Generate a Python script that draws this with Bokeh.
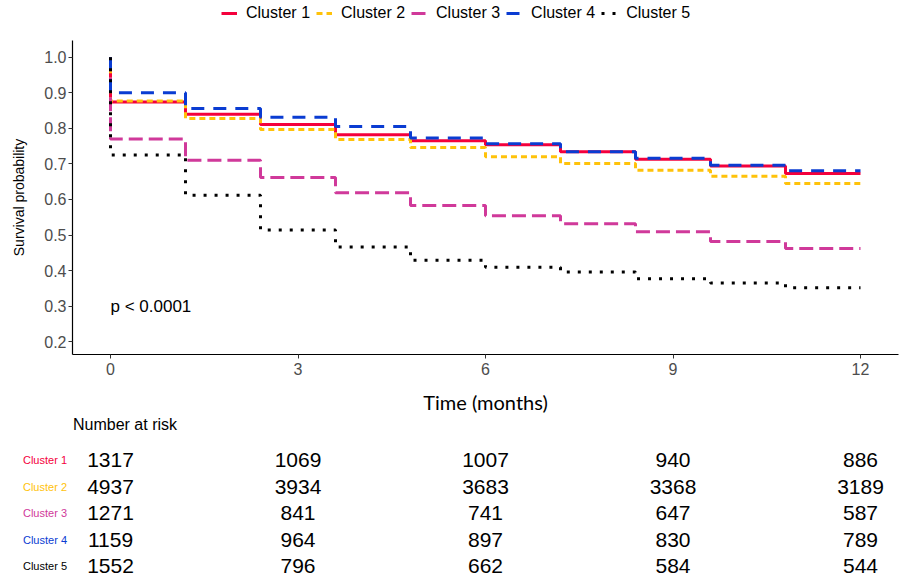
from bokeh.plotting import figure
from bokeh.models import (Range1d, FixedTicker, Legend, LegendItem, ColumnDataSource,
                          NumeralTickFormatter)
from bokeh.embed import file_html
from bokeh.resources import INLINE
from bokeh.core.properties import value

# ---------------- data ----------------
clusters = ["Cluster 1", "Cluster 2", "Cluster 3", "Cluster 4", "Cluster 5"]
step_times = [0, 1.2, 2.4, 3.6, 4.8, 6.0, 7.2, 8.4, 9.6, 10.8]
end_time = 12
surv_c1 = [0.874, 0.840, 0.811, 0.782, 0.765, 0.754, 0.734, 0.713, 0.694, 0.673]
surv_c2 = [0.877, 0.828, 0.797, 0.769, 0.746, 0.720, 0.701, 0.682, 0.665, 0.645]
surv_c3 = [0.770, 0.710, 0.662, 0.619, 0.583, 0.554, 0.532, 0.509, 0.482, 0.462]
surv_c4 = [0.900, 0.856, 0.831, 0.805, 0.773, 0.757, 0.734, 0.716, 0.696, 0.681]
surv_c5 = [0.725, 0.612, 0.514, 0.466, 0.429, 0.409, 0.396, 0.377, 0.365, 0.352]
survival = [surv_c1, surv_c2, surv_c3, surv_c4, surv_c5]

risk_times = [0, 3, 6, 9, 12]
risk_c1 = [1317, 1069, 1007, 940, 886]
risk_c2 = [4937, 3934, 3683, 3368, 3189]
risk_c3 = [1271, 841, 741, 647, 587]
risk_c4 = [1159, 964, 897, 830, 789]
risk_c5 = [1552, 796, 662, 584, 544]
risk = [risk_c1, risk_c2, risk_c3, risk_c4, risk_c5]

x_ticks = [0, 3, 6, 9, 12]
y_ticks = [0.2, 0.3, 0.4, 0.5, 0.6, 0.7, 0.8, 0.9, 1.0]
p_label = "p < 0.0001"

# ---------------- styles ----------------
colors = ["#F4003C", "#FFC20A", "#D0399A", "#0A3CD2", "#000000"]
dashes = ["solid", "6 4", "14 6", "13 9", "3 8"]
FONT = "Liberation Sans"
W = 900


def curve(i):
    xs = [0] + step_times + [end_time]
    ys = [1.0] + survival[i] + [survival[i][-1]]
    return xs, ys


# ---------------- legend strip ----------------
# (same curves, drawn off-range: only their legend swatches are visible)
lg = figure(width=W, height=26, output_backend="svg", toolbar_location=None,
            x_range=Range1d(100, 101), y_range=Range1d(100, 101),
            x_axis_location=None, y_axis_location=None, min_border=0)
lg.outline_line_color = None
lg.grid.visible = False
leg_renderers = []
for i in range(len(clusters)):
    xs, ys = curve(i)
    leg_renderers.append(lg.line(xs, ys, line_color=colors[i], line_width=3,
                                 line_dash=dashes[i], line_cap="butt"))
legend = Legend(items=[LegendItem(label=n, renderers=[r]) for n, r in zip(clusters, leg_renderers)],
                orientation="horizontal", location=(221, 3),
                label_text_font=FONT, label_text_font_size="16px", label_text_color="black",
                glyph_width=16, glyph_height=20, label_standoff=9, spacing=6,
                padding=0, margin=0, border_line_color=None, background_fill_alpha=0)
lg.add_layout(legend, "center")

# ---------------- main plot ----------------
p = figure(width=W, height=390, output_backend="svg", toolbar_location=None,
           x_range=Range1d(-0.608, 12.608), y_range=Range1d(0.1639, 1.0472),
           min_border_left=72, min_border_right=2, min_border_top=14, min_border_bottom=58)
p.background_fill_color = "white"
p.border_fill_color = "white"
p.outline_line_color = None
p.grid.visible = False

for i, name in enumerate(clusters):
    xs, ys = curve(i)
    p.step(xs, ys, mode="after", line_color=colors[i], line_width=3,
           line_dash=dashes[i], line_cap="butt")

p.text(x=[0], y=[0.3], text=[p_label], text_font=value(FONT), text_font_size="17px",
       text_align="left", text_baseline="middle", text_color="black")

for ax in (p.xaxis[0], p.yaxis[0]):
    ax.axis_line_color = "black"
    ax.axis_line_width = 1.2
    ax.major_tick_line_color = "#333333"
    ax.major_tick_out = 4
    ax.major_tick_in = 0
    ax.minor_tick_line_color = None
    ax.major_label_text_font = FONT
    ax.major_label_text_font_size = "16px"
    ax.major_label_text_color = "#4D4D4D"

p.xaxis.ticker = FixedTicker(ticks=x_ticks)
p.xaxis.major_label_standoff = 4
p.xaxis.axis_label = "Time (months)"
p.xaxis.axis_label_text_font = "Lato"
p.xaxis.axis_label_text_font_size = "20px"
p.xaxis.axis_label_text_font_style = "normal"
p.xaxis.axis_label_text_color = "black"
p.xaxis.axis_label_standoff = 12

p.yaxis.ticker = FixedTicker(ticks=y_ticks)
p.yaxis.formatter = NumeralTickFormatter(format="0.0")
p.yaxis.major_label_standoff = 2
p.yaxis.axis_label = "Survival probability"
p.yaxis.axis_label_text_font = FONT
p.yaxis.axis_label_text_font_size = "14px"
p.yaxis.axis_label_text_font_style = "normal"
p.yaxis.axis_label_text_color = "black"
p.yaxis.axis_label_standoff = 14

# ---------------- risk table ----------------
t = figure(width=W, height=162, output_backend="svg", toolbar_location=None,
           x_range=Range1d(-1.76, 12.64), y_range=Range1d(4.453, -1.660),
           x_axis_location=None, y_axis_location=None, min_border=0)
t.outline_line_color = None
t.grid.visible = False

t.text(x=[-0.6], y=[-1.358], text=["Number at risk"], text_font=value(FONT),
       text_font_size="16px", text_align="left", text_baseline="middle", text_color="black")

row_src = ColumnDataSource(dict(x=[-0.6] * len(clusters), y=list(range(len(clusters))),
                                txt=clusters, col=colors))
t.text(x="x", y="y", text="txt", source=row_src, text_font=value(FONT),
       text_font_size="11px", text_align="right", text_baseline="middle",
       text_color="col", x_offset=-6)

for i, name in enumerate(clusters):
    src = ColumnDataSource(dict(x=risk_times, y=[i] * len(risk_times),
                                txt=[str(v) for v in risk[i]]))
    t.text(x="x", y="y", text="txt", source=src, text_font=value(FONT), text_font_size="21px",
           text_align="center", text_baseline="middle", text_color="black")

open("out.html", "w").write(file_html([lg, p, t], INLINE))
